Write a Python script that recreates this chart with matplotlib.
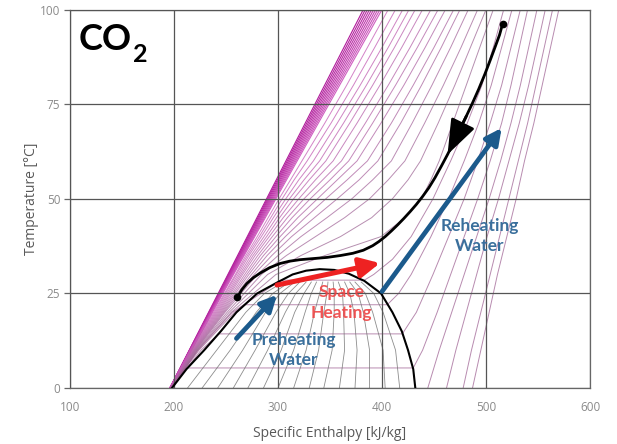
import numpy as np
import matplotlib.pyplot as plt
from matplotlib.colors import LinearSegmentedColormap

# CO2 saturation dome (specific enthalpy kJ/kg, temperature degC)
dome_h = [198, 212, 229, 245, 260, 280, 300, 314, 327, 340, 354, 368, 383, 399, 410, 419, 425, 430, 432]
dome_T = [0, 5, 10, 15, 20, 25, 28, 30, 31, 31.4, 31.2, 30.2, 28.3, 25, 20, 15, 10, 5, 0]

# constant quality lines inside the dome
qual_T = [0, 10, 20, 25, 28]
qual_h = [
    [213, 241, 269, 287, 305],
    [227, 254, 279, 295, 311],
    [242, 266, 288, 302, 316],
    [257, 278, 298, 310, 321],
    [271, 290, 307, 317, 327],
    [286, 303, 316, 325, 332],
    [300, 315, 326, 332, 337],
    [315, 327, 335, 340, 343],
    [330, 339, 344, 347, 348],
    [344, 352, 354, 354, 353],
    [359, 364, 363, 362, 358],
    [374, 376, 373, 369, 364],
    [388, 388, 382, 377, 369],
    [403, 401, 391, 384, 374],
    [417, 413, 401, 392, 380],
]

# very high pressure isobars (dense band on the left)
wedge_T = [0, 25, 50, 75, 100]
wedge_h = [
    [196, 242.5, 289, 335.5, 382],
    [196, 243, 290, 337, 384],
    [196, 243.5, 291, 338.5, 386],
    [196, 244, 292, 340, 388],
    [196, 244.5, 293, 341.5, 390],
    [196, 245, 294, 343, 392],
    [196, 245.5, 295, 344.5, 394],
    [196, 246, 296, 346, 396],
    [196.5, 246.5, 297, 347.5, 398],
    [196.5, 247, 298, 349, 400],
]

# supercritical isobars, high to low pressure
sc_T = [0, 10, 20, 30, 35, 40, 45, 50, 55, 60, 70, 80, 90, 100]
sc_h = [
    [197, 215.5, 238, 259, 269, 280, 290.5, 301, 312, 323, 345, 366, 386, 406],
    [197, 216, 239, 260, 270.5, 282, 293, 304, 315.5, 328, 351, 372.5, 393, 413],
    [197, 216.5, 240, 261.5, 272, 284, 295.5, 307.5, 320, 334, 357, 379, 400, 420],
    [197, 217, 241, 263, 274, 286.5, 298.5, 311, 325, 340, 363, 385, 406, 426],
    [197, 217.5, 242, 264.5, 276, 289, 301.5, 315, 330, 346, 369, 391, 412, 432],
    [197, 218, 243, 266, 278, 291.5, 305, 320, 336, 353, 376, 398, 419, 439],
    [197, 218.5, 244, 268, 280.5, 294.5, 309, 325, 343, 361, 384, 406, 427, 447],
    [197, 219, 245, 270, 283, 298, 313.5, 331, 350, 368, 391, 413, 434, 454],
    [197, 219.5, 246, 272, 286, 302, 319, 338, 357, 376, 399, 421, 441.5, 461],
    [197, 220, 247, 274.5, 289.5, 307, 326, 346, 366.5, 386, 409, 430, 450, 469],
    [197, 220.5, 248, 277, 294, 313, 335, 357, 378, 396, 418, 438, 457, 475],
    [197, 221, 249, 280, 300, 322, 347, 371, 391, 409, 429, 448, 466, 483],
    [197, 221.5, 251, 284, 308, 336, 364, 388, 406, 422, 441, 459, 476, 492],
    [197.5, 222, 253, 290, 322, 360, 390, 410, 425, 437, 454, 470, 485, 500],
    [198, 222.5, 255, 298, 345, 399, 422, 438, 447, 455, 468, 481, 494, 507],
]

# subcritical isobars crossing the dome (70, 60, 50, 40 bar)
sub_h = [
    [197, 223, 256, 303, 383, 392, 410, 428, 449, 466, 482, 496, 507, 517],
    [197, 224, 258, 268, 405, 416, 428, 447, 464, 479, 493, 505, 515, 525],
    [197.5, 226, 243, 419.5, 433, 449, 464, 479, 492, 504, 515, 524, 533],
    [198, 212.5, 430, 439, 453, 466, 479, 492, 504, 515, 524, 532, 540],
]
sub_T = [
    [0, 10, 20, 28.5, 28.5, 30, 34, 40, 50, 60, 70, 80, 90, 100],
    [0, 10, 20, 22, 22, 25, 30, 40, 50, 60, 70, 80, 90, 100],
    [0, 10, 14.3, 14.3, 20, 30, 40, 50, 60, 70, 80, 90, 100],
    [0, 5.3, 5.3, 10, 20, 30, 40, 50, 60, 70, 80, 90, 100],
]

# low pressure vapour isobars (30, 20, 10, 5 bar)
vap_T = [0, 10, 20, 30, 40, 50, 60, 70, 80, 90, 100]
vap_h = [
    [444, 455, 467, 479, 491, 503, 514, 524, 533, 541, 549],
    [462, 471, 481, 491, 501, 512, 522, 532, 541, 549, 557],
    [478, 486, 495, 504, 513, 522, 531, 540, 548, 556, 564],
    [487, 495, 503, 511, 520, 529, 537, 546, 554, 562, 570],
]

# heat pump gas cooler path
proc_h = [261, 265, 270, 276, 283, 292, 302, 311, 321, 334, 347, 360, 372, 382,
          391, 397, 403, 409, 415, 421, 427, 433, 439, 445, 451, 457, 463, 469,
          475, 481, 487, 493, 499, 504, 509, 513, 516]
proc_T = [24, 25.9, 27.6, 29.1, 30.4, 31.8, 32.9, 33.5, 33.9, 34.2, 34.5, 35.0, 35.6, 36.4,
          37.6, 38.7, 40.0, 41.5, 43.1, 44.8, 46.6, 48.5, 50.6, 52.9, 55.6, 58.6, 61.7, 65.0,
          68.4, 71.8, 75.3, 79.0, 83.0, 86.6, 90.3, 93.3, 96.3]

# heat exchange arrows: (tail, head)
preheat_h = [260, 299]
preheat_T = [13.1, 24.6]
reheat_h = [400, 515]
reheat_T = [25.5, 68.7]
space_h = [299, 398]
space_T = [27.2, 33]

blue = '#1b5a8c'
blue_txt = '#3a6f9c'
red = '#ee2222'
red_txt = '#ee4444'

fig = plt.figure(figsize=(6.17, 4.44), dpi=100)
ax = fig.add_axes([0.1135, 0.1261, 0.8428, 0.8525])

# isobars
wedge_cmap = LinearSegmentedColormap.from_list('w', ['#b01a9a', '#cf5fc0'])
for i, row in enumerate(wedge_h):
    ax.plot(row, wedge_T, color=wedge_cmap(i / (len(wedge_h) - 1)), lw=0.8, zorder=1)

sc_cmap = LinearSegmentedColormap.from_list('s', ['#c55ab5', '#9d6a95'])
for i, row in enumerate(sc_h):
    ax.plot(row, sc_T, color=sc_cmap(i / (len(sc_h) - 1)), lw=0.7, alpha=0.75, zorder=1)

for hh, tt in zip(sub_h, sub_T):
    ax.plot(hh, tt, color='#9a5a8e', lw=0.7, alpha=0.7, zorder=1)
for row in vap_h:
    ax.plot(row, vap_T, color='#9a5a8e', lw=0.7, alpha=0.7, zorder=1)

for row in qual_h:
    ax.plot(row, qual_T, color='#707070', lw=0.6, alpha=0.8, zorder=1)

# saturation dome
ax.plot(dome_h, dome_T, color='black', lw=1.5, zorder=3)

# process line with flow direction
ax.plot(proc_h, proc_T, color='black', lw=2.0, zorder=4, solid_capstyle='round')
ax.plot([proc_h[0], proc_h[-1]], [proc_T[0], proc_T[-1]], 'o', color='black', ms=4.5, zorder=4)
ax.annotate('', xy=(proc_h[26], proc_T[26]), xytext=(proc_h[29], proc_T[29]),
            arrowprops=dict(arrowstyle='-|>,head_length=1.35,head_width=0.5',
                            mutation_scale=16, color='black', lw=2.0,
                            shrinkA=0, shrinkB=0), zorder=5)

def arrow(hs, ts, color, lw, hl, hw, ms):
    ax.annotate('', xy=(hs[1], ts[1]), xytext=(hs[0], ts[0]),
                arrowprops=dict(arrowstyle='-|>,head_length=%s,head_width=%s' % (hl, hw),
                                mutation_scale=ms, color=color, lw=lw,
                                shrinkA=0, shrinkB=0), zorder=6)

arrow(preheat_h, preheat_T, blue, 3.4, 0.6, 0.3, 16)
arrow(reheat_h, reheat_T, blue, 3.4, 0.6, 0.3, 16)
arrow(space_h, space_T, red, 3.6, 0.7, 0.35, 17)

ax.text(361, 22.6, 'Space\nHeating', color=red_txt, fontsize=12.5, fontweight='bold',
        family='Lato', ha='center', va='center', linespacing=1.35, zorder=7, alpha=0.9)
ax.text(315, 10, 'Preheating\nWater', color=blue_txt, fontsize=12.5, fontweight='bold',
        family='Lato', ha='center', va='center', linespacing=1.35, zorder=7)
ax.text(494, 40.2, 'Reheating\nWater', color=blue_txt, fontsize=12.5, fontweight='bold',
        family='Lato', ha='center', va='center', linespacing=1.35, zorder=7)

ax.text(108.5, 89.4, 'CO', fontsize=26, fontweight='bold', family='Lato',
        ha='left', va='baseline', zorder=7)
ax.text(160.5, 86.2, '2', fontsize=18, fontweight='bold', family='Lato',
        ha='left', va='baseline', zorder=7)

ax.set_xlim(100, 600)
ax.set_ylim(0, 100)
ax.set_xticks(range(100, 601, 100))
ax.set_yticks([0, 25, 50, 75, 100])
ax.grid(True, color='#555555', lw=0.9)
ax.set_axisbelow(False)
for s in ax.spines.values():
    s.set_color('#666666')
    s.set_linewidth(0.9)

ax.tick_params(axis='x', length=0, pad=9, labelsize=8.5, labelcolor='#8a8a8a')
ax.tick_params(axis='y', length=4, width=0.9, color='#666666', pad=3,
               labelsize=8.5, labelcolor='#8a8a8a')
for lab in ax.get_xticklabels() + ax.get_yticklabels():
    lab.set_family('Open Sans')

ax.set_xlabel('Specific Enthalpy [kJ/kg]', fontsize=10, color='#595959',
              family='Open Sans', labelpad=9)
ax.set_ylabel('Temperature [°C]', fontsize=10, color='#595959',
              family='Open Sans', labelpad=1)

fig.savefig('out.png', dpi=100)
